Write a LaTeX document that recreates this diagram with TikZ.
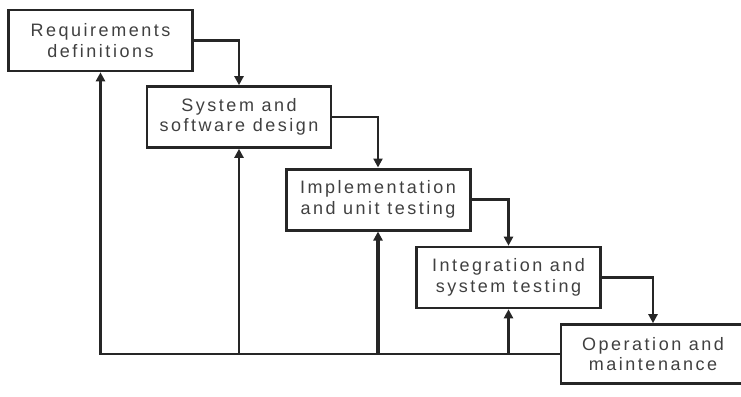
\documentclass[tikz,border=0pt]{standalone}
\usepackage{fontspec}
\setmainfont{Liberation Sans}[LetterSpace=14]
\usepackage{xcolor}
\usetikzlibrary{arrows.meta, positioning, calc}

\begin{document}
\begin{tikzpicture}[
    x=1pt, y=-1pt,
    stage/.style={
      rectangle, draw=black!85, line width=2.6pt,
      minimum width=184pt, minimum height=61pt,
      align=center, text=black!75,
      font=\fontsize{18}{20.5}\selectfont
    },
    arr/.style={-{Triangle[length=9pt,width=9pt]}, line width=2.5pt, draw=black!85},
    ln/.style={line width=2.5pt, draw=black!85}
  ]
  \useasboundingbox (0,0) rectangle (741,396);

  \node[stage] (req) at (100.5,40.5) {Requirements\\definitions};
  \node[stage] (sys) at (239,117) {System and\\software design};
  \node[stage, line width=3pt] (impl) at (378,199.5) {Implementation\\and unit testing};
  \node[stage] (integ) at (508.5,277.5) {Integration and\\system testing};
  \node[stage, minimum width=184pt, minimum height=59pt] (op) at (653,354) {Operation and\\maintenance};

  % cascade down
  \draw[arr] (req.east) -| (sys.north);
  \draw[arr] (sys.east) -| (impl.north);
  \draw[arr] (impl.east) -| (integ.north);
  \draw[arr] (integ.east) -| (op.north);

  % feedback to every stage
  \coordinate (back) at (req.south |- op.west);
  \draw[arr] (op.west) -- (back) -- (req.south);
  \draw[arr] (sys.south |- back) -- (sys.south);
  \draw[arr, line width=3.2pt] (impl.south |- back) -- (impl.south);
  \draw[arr] (integ.south |- back) -- (integ.south);
\end{tikzpicture}
\end{document}
